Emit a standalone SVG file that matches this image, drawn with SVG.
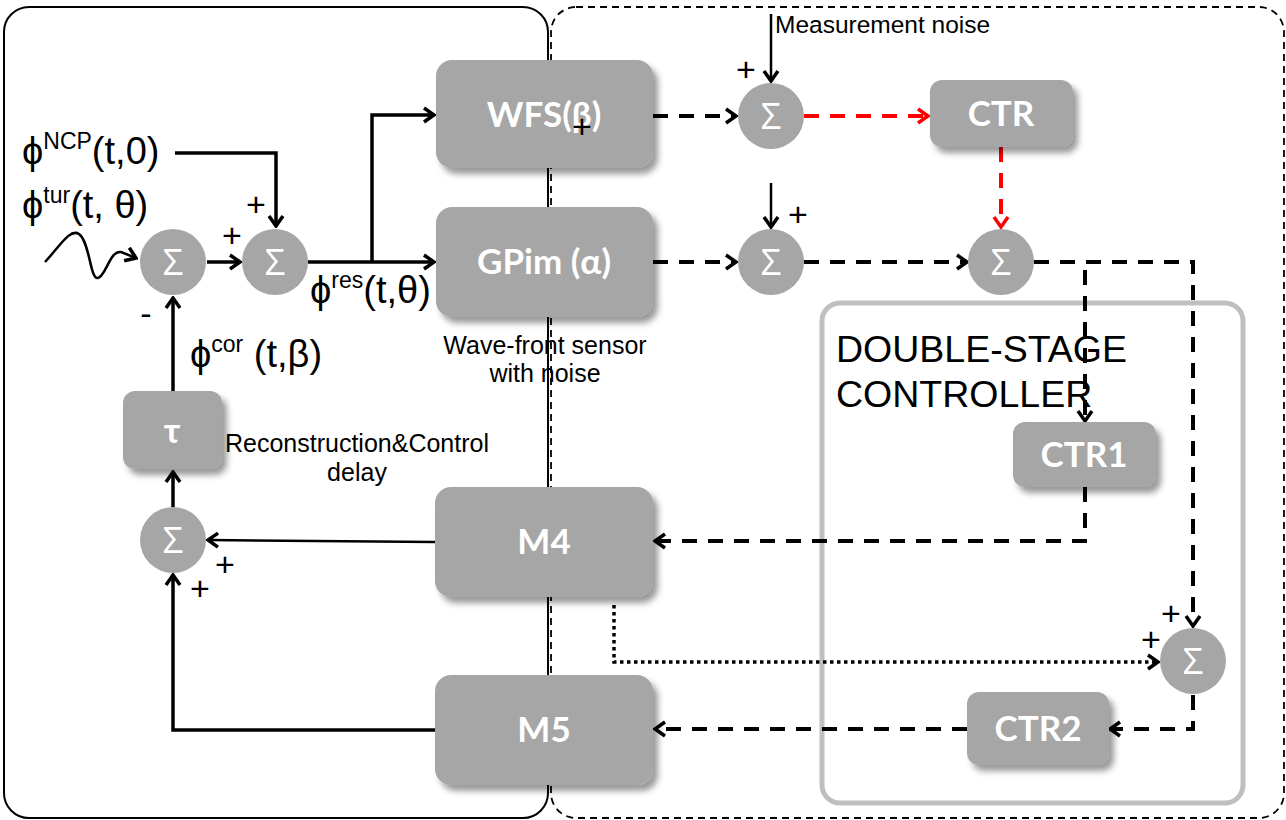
<svg xmlns="http://www.w3.org/2000/svg" width="1286" height="820" viewBox="0 0 1286 820">
<defs>
<style>
.box{fill:#a6a6a6;filter:url(#sh)}
.sum{fill:#a6a6a6}
.bl{font-family:Lato,"Open Sans",sans-serif;font-weight:bold;fill:#fff;text-anchor:middle;font-size:35px}
.sg{font-family:"Open Sans",sans-serif;fill:#fff;text-anchor:middle;font-size:36px}
.t{font-family:"Liberation Sans",Arial,sans-serif;fill:#000}
.pl{font-family:"Liberation Sans",Arial,sans-serif;font-size:34px;text-anchor:middle;fill:#000}
.s{fill:none;stroke:#000;stroke-width:3.5}
.th{fill:none;stroke:#000;stroke-width:2.5}
.d{fill:none;stroke:#000;stroke-width:4;stroke-dasharray:15 11}
.r{fill:none;stroke:#f00;stroke-width:4;stroke-dasharray:15 11}
.o{fill:none;stroke:#000;stroke-width:3.5;stroke-dasharray:3.5 3.5}
</style>
<filter id="sh" x="-10%" y="-10%" width="130%" height="140%">
<feDropShadow dx="5" dy="6" stdDeviation="3" flood-color="#000" flood-opacity="0.4"/>
</filter>
<marker id="a" viewBox="0 0 14 18" refX="12" refY="9" markerWidth="14" markerHeight="18" markerUnits="userSpaceOnUse" orient="auto">
<path d="M2,2 L12,9 L2,16" fill="none" stroke="#000" stroke-width="3.5"/>
</marker>
<marker id="ar" viewBox="0 0 14 18" refX="12" refY="9" markerWidth="14" markerHeight="18" markerUnits="userSpaceOnUse" orient="auto">
<path d="M2,2 L12,9 L2,16" fill="none" stroke="#f00" stroke-width="3.5"/>
</marker>
</defs>

<g id="frames">
<rect x="4" y="7" width="544" height="811" rx="25" fill="none" stroke="#000" stroke-width="2"/>
<rect x="551" y="7" width="733" height="811" rx="25" fill="none" stroke="#000" stroke-width="1.8" stroke-dasharray="7 5"/>
<rect id="double-stage" x="822" y="303" width="421" height="500" rx="18" fill="none" stroke="#bfbfbf" stroke-width="5"/>
</g>

<g id="connectors">
<path class="th" d="M45,262 C60,246 70,228 79,234 C90,242 90,280 98,278 C106,276 110,250 121,252 L136,258" marker-end="url(#a)"/>
<path class="s" d="M207,262 H240" marker-end="url(#a)"/>
<path class="s" d="M175,153 H276 V226" marker-end="url(#a)"/>
<path class="s" d="M308,262 H434" marker-end="url(#a)"/>
<path class="s" d="M372,262 V115 H434" marker-end="url(#a)"/>
<path class="d" d="M653,116 H736" marker-end="url(#a)"/>
<path class="r" d="M804,116 H928" marker-end="url(#ar)"/>
<path class="r" d="M1001,147 V227" marker-end="url(#ar)"/>
<path class="th" d="M771,14 V81" marker-end="url(#a)"/>
<path class="th" d="M771,183 V227" marker-end="url(#a)"/>
<path class="d" d="M653,262 H736" marker-end="url(#a)"/>
<path class="d" d="M804,262 H967" marker-end="url(#a)"/>
<path class="d" d="M1034,262 H1193 V626" marker-end="url(#a)"/>
<path class="d" d="M1085,270 V421" marker-end="url(#a)"/>
<path class="d" d="M1085,487 V541 H655" marker-end="url(#a)"/>
<path class="o" d="M614,605 V662 H1158" marker-end="url(#a)"/>
<path class="d" d="M1193,695 V729 H1110" marker-end="url(#a)"/>
<path class="d" d="M967,729 H655" marker-end="url(#a)"/>
<path class="th" d="M435,542 L208,540" marker-end="url(#a)"/>
<path class="s" d="M435,730 H173 V575" marker-end="url(#a)"/>
<path class="s" d="M173,507 V472" marker-end="url(#a)"/>
<path class="s" d="M173,391 V298" marker-end="url(#a)"/>
</g>

<g id="sum1"><circle class="sum" cx="173" cy="262" r="33"/><text class="sg" x="173" y="275">Σ</text></g>
<g id="sum2"><circle class="sum" cx="275" cy="262" r="33"/><text class="sg" x="275" y="275">Σ</text></g>
<g id="sum3"><circle class="sum" cx="771" cy="116" r="33"/><text class="sg" x="771" y="129">Σ</text></g>
<g id="sum4"><circle class="sum" cx="771" cy="262" r="33"/><text class="sg" x="771" y="275">Σ</text></g>
<g id="sum5"><circle class="sum" cx="1001" cy="262" r="33"/><text class="sg" x="1001" y="275">Σ</text></g>
<g id="sum6"><circle class="sum" cx="1193" cy="661" r="33"/><text class="sg" x="1193" y="674">Σ</text></g>
<g id="sum7"><circle class="sum" cx="173" cy="540" r="33"/><text class="sg" x="173" y="553">Σ</text></g>

<g id="wfs"><rect class="box" x="436" y="60" width="217" height="108" rx="16"/><text class="bl" x="544" y="127">WFS(β)</text></g>
<g id="gpim"><rect class="box" x="436" y="207" width="217" height="110" rx="16"/><text class="bl" x="544" y="274">GPim (α)</text></g>
<g id="m4"><rect class="box" x="435" y="487" width="218" height="110" rx="16"/><text class="bl" x="544" y="554">M4</text></g>
<g id="m5"><rect class="box" x="435" y="675" width="218" height="110" rx="16"/><text class="bl" x="544" y="742">M5</text></g>
<g id="ctr"><rect class="box" x="930" y="80" width="143" height="67" rx="12"/><text class="bl" x="1001" y="126">CTR</text></g>
<g id="ctr1"><rect class="box" x="1013" y="422" width="143" height="65" rx="12"/><text class="bl" x="1084" y="467">CTR1</text></g>
<g id="ctr2"><rect class="box" x="967" y="692" width="142" height="73" rx="12"/><text class="bl" x="1038" y="741">CTR2</text></g>
<g id="tau"><rect class="box" x="123" y="391" width="99" height="78" rx="12"/><text class="bl" x="172" y="443" font-size="30">τ</text></g>

<g id="labels">
<text class="t" x="22" y="164" font-size="38">ϕ<tspan font-size="23" dy="-15">NCP</tspan><tspan dy="15">(t,0)</tspan></text>
<text class="t" x="22" y="218" font-size="38">ϕ<tspan font-size="23" dy="-15">tur</tspan><tspan dy="15">(t, θ)</tspan></text>
<text class="t" x="310" y="303" font-size="38">ϕ<tspan font-size="23" dy="-15">res</tspan><tspan dy="15">(t,θ)</tspan></text>
<text class="t" x="190" y="367" font-size="38">ϕ<tspan font-size="23" dy="-15">cor</tspan><tspan dy="15"> (t,β)</tspan></text>
<text class="t" x="545" y="354" font-size="25" text-anchor="middle">Wave-front sensor</text>
<text class="t" x="545" y="382" font-size="25" text-anchor="middle">with noise</text>
<text class="t" x="357" y="452" font-size="25" text-anchor="middle">Reconstruction&amp;Control</text>
<text class="t" x="357" y="481" font-size="25" text-anchor="middle">delay</text>
<text class="t" x="775" y="33" font-size="24.5">Measurement noise</text>
<text class="t" x="836" y="362" font-size="37.5">DOUBLE-STAGE</text>
<text class="t" x="836" y="407" font-size="37.5">CONTROLLER</text>
<text class="pl" x="232" y="247">+</text>
<text class="pl" x="256" y="216">+</text>
<text class="pl" x="146" y="325">-</text>
<text class="pl" x="582" y="138">+</text>
<text class="pl" x="746" y="81">+</text>
<text class="pl" x="798" y="226">+</text>
<text class="pl" x="225" y="576">+</text>
<text class="pl" x="200" y="600">+</text>
<text class="pl" x="1171" y="625">+</text>
<text class="pl" x="1151" y="651">+</text>
</g>
</svg>
